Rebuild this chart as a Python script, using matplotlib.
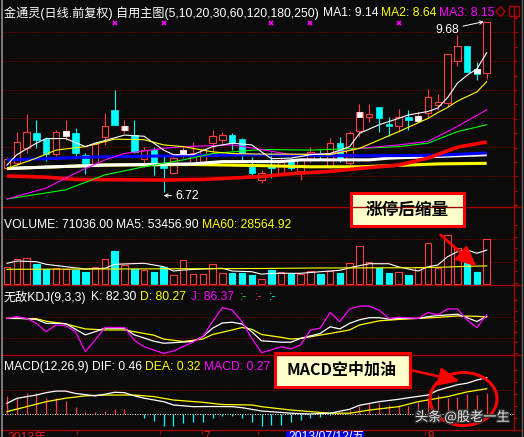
import matplotlib
matplotlib.use("Agg")
import matplotlib.pyplot as plt
from matplotlib.patches import Rectangle, Ellipse, FancyArrowPatch, Polygon
import matplotlib.patheffects as pe

# ---------------- daily bars: 金通灵 ----------------
opens = [7.14, 7.23, 7.49, 7.75, 7.64, 7.38, 7.71, 7.75, 7.37, 7.21,
         7.68, 8.15, 7.80, 7.71, 7.30, 7.45, 7.21, 7.05, 7.38, 7.23,
         7.23, 7.57, 7.63, 7.71, 7.64, 7.16, 6.93, 7.19, 7.05, 7.28,
         7.09, 7.28, 7.38, 7.16, 7.57, 7.23, 7.78, 8.02, 8.20, 7.90,
         7.87, 8.02, 7.99, 8.09, 8.23, 8.27, 9.00, 9.26, 8.86, 8.79]
highs = [7.33, 7.76, 8.08, 7.97, 7.68, 7.80, 7.97, 7.83, 7.40, 7.57,
         8.09, 8.49, 7.97, 7.97, 7.50, 7.50, 7.37, 7.37, 7.52, 7.59,
         7.49, 7.80, 7.76, 7.75, 7.66, 7.33, 7.10, 7.42, 7.31, 7.31,
         7.31, 7.50, 7.45, 7.66, 7.68, 7.78, 8.25, 8.25, 8.20, 8.02,
         8.16, 8.15, 8.11, 8.51, 8.42, 9.12, 9.45, 9.26, 8.98, 9.68]
lows = [7.10, 7.19, 7.40, 7.49, 7.26, 7.35, 7.63, 7.31, 7.04, 7.19,
        7.54, 7.89, 7.75, 7.40, 7.16, 7.02, 6.72, 7.04, 7.31, 7.19,
        7.19, 7.40, 7.57, 7.45, 7.28, 6.98, 6.88, 6.97, 7.02, 7.10,
        6.93, 7.24, 7.28, 7.14, 7.24, 7.19, 7.68, 7.94, 7.76, 7.69,
        7.76, 7.80, 7.94, 8.01, 8.15, 8.22, 8.91, 8.81, 8.67, 8.68]
closes = [7.30, 7.59, 7.76, 7.63, 7.38, 7.76, 7.78, 7.40, 7.23, 7.56,
          7.87, 7.89, 7.87, 7.42, 7.45, 7.23, 7.14, 7.31, 7.45, 7.40,
          7.45, 7.69, 7.71, 7.57, 7.38, 7.05, 7.05, 7.14, 7.28, 7.14,
          7.28, 7.42, 7.35, 7.57, 7.28, 7.75, 8.11, 8.08, 8.01, 7.87,
          8.02, 7.97, 8.04, 8.37, 8.29, 9.12, 9.26, 8.81, 8.77, 9.68]
volumes = [27300, 39500, 41500, 32000, 23200, 25700, 23200, 22100, 18500, 26800,
           39500, 52600, 30000, 23200, 22100, 18900, 26800, 14200, 37900, 15800,
           15800, 31600, 17400, 17800, 17800, 14200, 7900, 22100, 18500, 16300,
           16300, 20500, 16300, 20500, 16900, 32700, 60000, 34300, 24800, 16900,
           18500, 14200, 26400, 64200, 24800, 77400, 56400, 35200, 18500, 71036]

# bars carrying the white square mark, and the magenta signal crosses
mark_days = [6, 12, 18, 36, 42, 48]
signal_days = [11, 16, 27, 31, 40]

# ---------------- moving averages (bar index, value) ----------------
ma5_idx = [0, 1, 3, 4, 6, 8, 9, 12, 14, 16, 17, 19, 21, 23, 25, 26, 27, 29, 31, 33,
           35, 36, 38, 40, 41, 43, 44, 45, 46, 47, 48, 49]
ma5_val = [7.19, 7.37, 7.57, 7.65, 7.65, 7.51, 7.57, 7.71, 7.69, 7.45, 7.37, 7.37,
           7.51, 7.57, 7.54, 7.42, 7.30, 7.31, 7.37, 7.39, 7.51, 7.74, 7.89, 8.00,
           8.06, 8.12, 8.18, 8.36, 8.61, 8.75, 8.86, 9.14]
ma10_idx = [0, 3, 5, 8, 11, 14, 16, 18, 21, 23, 26, 29, 33, 36, 40, 43, 44, 45, 46,
            47, 48, 49]
ma10_val = [7.13, 7.31, 7.45, 7.51, 7.64, 7.63, 7.54, 7.51, 7.42, 7.39, 7.38, 7.38,
            7.37, 7.48, 7.77, 8.00, 8.10, 8.19, 8.30, 8.38, 8.46, 8.64]
ma20_idx = [0, 4, 7, 10, 12, 16, 18, 23, 26, 29, 33, 36, 40, 43, 46, 49]
ma20_val = [6.60, 6.79, 7.05, 7.28, 7.39, 7.48, 7.51, 7.54, 7.46, 7.37, 7.39, 7.48,
            7.54, 7.60, 7.86, 8.15]
ma30_idx = [0, 6, 10, 14, 18, 21, 26, 31, 36, 40, 43, 46, 49]
ma30_val = [6.60, 6.76, 7.02, 7.16, 7.28, 7.39, 7.46, 7.45, 7.48, 7.51, 7.57, 7.77, 7.89]
ma60_idx = [0, 4, 7, 16, 20, 26, 29, 33, 36, 40, 43, 46, 49]
ma60_val = [7.00, 6.98, 6.94, 6.93, 6.94, 6.99, 7.04, 7.08, 7.13, 7.19, 7.31, 7.50, 7.59]
ma120_idx = [0, 9, 17, 26, 36, 44, 49]
ma120_val = [7.28, 7.33, 7.35, 7.37, 7.35, 7.36, 7.40]
ma180_idx = [0, 10, 19, 22, 28, 30, 37, 39, 44, 49]
ma180_val = [7.13, 7.19, 7.21, 7.25, 7.25, 7.28, 7.28, 7.31, 7.34, 7.37]
ma250_idx = [0, 10, 19, 26, 31, 36, 41, 44, 49]
ma250_val = [7.13, 7.19, 7.20, 7.18, 7.16, 7.16, 7.19, 7.21, 7.22]

# volume averages
vma5_idx = [0, 1, 3, 4, 6, 8, 10, 11, 14, 16, 17, 18, 20, 22, 23, 25, 26, 27, 29, 30,
            32, 34, 35, 36, 37, 39, 40, 42, 43, 44, 45, 46, 47, 48, 49]
vma5_val = [32700, 36300, 35200, 31100, 27300, 23700, 24800, 31100, 32700, 27300,
            20500, 22100, 23700, 24800, 20500, 19400, 15500, 16900, 16900, 16900,
            19400, 21600, 25700, 28900, 32000, 32000, 27000, 20500, 27300, 30000,
            43100, 51000, 53700, 48500, 53456.90]
vma60_idx = [0, 11, 26, 31, 42, 45, 47, 49]
vma60_val = [23200, 23700, 24500, 25200, 25700, 26800, 28000, 28564.92]

# KDJ
k_idx = [0, 1, 3, 4, 5, 6, 8, 9, 10, 12, 13, 15, 16, 19, 20, 21, 22, 23, 24, 25, 26,
         28, 29, 30, 32, 33, 34, 35, 36, 37, 38, 39, 40, 42, 43, 44, 46, 47, 48, 49]
k_val = [76, 77, 73, 62, 62, 61, 29, 38, 48, 48, 29, 11, 5, 10, 24, 48, 63, 65, 60,
         38, 12, 8, 8, 19, 33, 52, 46, 62, 72, 78, 78, 74, 76, 76, 81, 84, 88, 78, 67,
         82.30]
d_idx = [0, 3, 4, 6, 8, 10, 12, 13, 15, 16, 18, 20, 21, 23, 24, 25, 26, 28, 29, 30,
         33, 35, 36, 38, 40, 42, 44, 46, 48, 49]
d_val = [76, 75, 68, 60, 46, 43, 43, 38, 28, 17, 10, 17, 30, 43, 50, 45, 30, 22, 17,
         19, 33, 43, 57, 69, 73, 76, 79, 83, 82, 80.27]
j_idx = [0, 1, 2, 3, 4, 5, 6, 7, 8, 9, 10, 12, 13, 14, 16, 17, 19, 20, 21, 22, 23,
         24, 25, 26, 27, 28, 29, 30, 31, 32, 33, 34, 35, 36, 37, 38, 39, 40, 42, 43,
         44, 45, 46, 47, 48, 49]
j_val = [76, 81, 76, 62, 38, 57, 55, 38, -19, 14, 50, 50, 14, -5, -24, -17, 8, 24,
         67, 107, 100, 67, 19, -22, -14, -5, -11, 0, 43, 48, 93, 67, 103, 111, 111,
         100, 76, 79, 76, 93, 86, 103, 103, 71, 50, 86.37]

# MACD
dif_idx = [0, 1, 3, 4, 5, 6, 7, 9, 10, 11, 12, 13, 14, 16, 17, 19, 21, 23, 24, 26,
           28, 29, 31, 33, 35, 36, 38, 40, 41, 43, 44, 46, 47, 48, 49]
dif_val = [0.135, 0.198, 0.24, 0.27, 0.29, 0.29, 0.26, 0.23, 0.25, 0.275, 0.27, 0.23,
           0.20, 0.156, 0.114, 0.093, 0.095, 0.093, 0.08, 0.038, 0.02, 0.01, 0.0,
           0.01, 0.06, 0.11, 0.156, 0.186, 0.206, 0.24, 0.30, 0.37, 0.39, 0.43, 0.46]
dea_idx = [0, 2, 4, 6, 8, 10, 13, 15, 17, 20, 22, 25, 26, 29, 33, 35, 37, 40, 42,
           45, 47, 49]
dea_val = [0.03, 0.093, 0.156, 0.20, 0.23, 0.24, 0.24, 0.22, 0.177, 0.148, 0.12,
           0.114, 0.093, 0.05, 0.01, 0.01, 0.05, 0.093, 0.156, 0.22, 0.28, 0.32]
macd_bar = [0.23, 0.20, 0.26, 0.26, 0.20, 0.20, 0.164, 0.093, 0.03, 0.02,
            0.038, 0.06, 0.06, 0.004, -0.047, -0.089, -0.148, -0.148, -0.118, -0.105,
            -0.105, -0.055, -0.02, -0.02, -0.047, -0.10, -0.148, -0.14, -0.14, -0.097,
            -0.076, -0.047, -0.034, -0.01, 0.01, 0.05, 0.105, 0.135, 0.14, 0.12,
            0.114, 0.105, 0.15, 0.20, 0.24, 0.206, 0.22, 0.25, 0.24, 0.27]

# ---------------- styling ----------------
W, H = 524, 437
BG = "#0b0b0b"
RED = "#ff3c3c"
CYAN = "#00ffff"
YEL = "#ffff00"
MAG = "#ff00ff"
GRN = "#00ff00"
BLUE = "#0000ff"
GRID = "#a00000"
FRAME = "#a00000"
FONT = ["Liberation Sans", "Noto Sans CJK SC"]
CJK = ["Noto Sans CJK SC", "DejaVu Sans"]
FS = 8.7

X0, X1 = 2.0, 513.5           # plotting span in pixels
BAR0, STEP = 7.0, 9.79        # centre of first bar and bar spacing in pixels
XLIM = ((X0 - BAR0) / STEP, (X1 - BAR0) / STEP)
BW = 0.66

fig = plt.figure(figsize=(W / 100, H / 100), dpi=100, facecolor=BG)


def panel(top, bottom, ylo, yhi):
    ax = fig.add_axes([X0 / W, 1 - bottom / H, (X1 - X0) / W, (bottom - top) / H])
    ax.set_xlim(*XLIM)
    ax.set_ylim(ylo, yhi)
    ax.axis("off")
    ax.patch.set_alpha(0)
    return ax


def grid(ax, v, color=GRID):
    ax.axhline(v, color=color, lw=0.72, ls=(0, (1, 2)), zorder=0)


# ---------------- main price panel ----------------
ax = panel(0, 207, 6.4618, 10.0556)
for v in [7.0, 7.5, 8.0, 8.5, 9.0, 9.5]:
    grid(ax, v)

n = len(closes)
for i in range(n):
    o, h, l, c = opens[i], highs[i], lows[i], closes[i]
    if c >= o:
        ax.vlines(i, c, h, color=RED, lw=0.8, zorder=2)
        ax.vlines(i, l, o, color=RED, lw=0.8, zorder=2)
        ax.bar(i, max(c - o, 0.01), bottom=o, width=BW, facecolor=BG,
               edgecolor=RED, lw=0.8, zorder=3)
    else:
        ax.vlines(i, l, h, color=CYAN, lw=0.8, zorder=2)
        ax.bar(i, o - c, bottom=c, width=BW, facecolor=CYAN,
               edgecolor=CYAN, lw=0.5, zorder=3)
for i in mark_days:
    top = max(opens[i], closes[i])
    ax.bar(i, 0.08, bottom=top - 0.08, width=BW * 0.9, facecolor="white",
           edgecolor="white", lw=0.5, zorder=4)

ax.plot(ma250_idx, ma250_val, color=YEL, lw=2.2, zorder=5, solid_capstyle="butt")
ax.plot(ma180_idx, ma180_val, color="white", lw=2.2, zorder=5, solid_capstyle="butt")
ax.plot(ma120_idx, ma120_val, color=BLUE, lw=2.2, zorder=5, solid_capstyle="butt")
ax.plot(ma60_idx, ma60_val, color="#ff0000", lw=2.6, zorder=5, solid_capstyle="butt")
ax.plot(ma30_idx, ma30_val, color=GRN, lw=0.8, zorder=6)
ax.plot(ma20_idx, ma20_val, color=MAG, lw=0.8, zorder=6)
ax.plot(ma10_idx, ma10_val, color=YEL, lw=0.8, zorder=6)
ax.plot(ma5_idx, ma5_val, color="white", lw=0.8, zorder=6)

ax.plot(signal_days, [0.89] * len(signal_days), "x", color=MAG, ms=3.5, mew=1.2,
        transform=ax.get_xaxis_transform(), zorder=6)

ihi = highs.index(max(highs))
ilo = lows.index(min(lows))
ax.annotate(f"{highs[ihi]:.2f}", xy=(ihi - 0.3, highs[ihi]), xytext=(-25, -8),
            textcoords="offset pixels", ha="right", va="center", color="white",
            fontsize=FS, family=FONT,
            arrowprops=dict(arrowstyle="->", color="white", lw=0.7,
                            shrinkA=1, shrinkB=0, mutation_scale=6))
ax.annotate(f"{lows[ilo]:.2f}", xy=(ilo, lows[ilo] - 0.06), xytext=(12, 0),
            textcoords="offset pixels", ha="left", va="center", color="white",
            fontsize=FS, family=FONT,
            arrowprops=dict(arrowstyle="->", color="white", lw=0.7,
                            shrinkA=1, shrinkB=0, mutation_scale=6))

# ---------------- volume panel ----------------
axv = panel(207, 285, -1578.6, 121552)
for v in [71036, 34729]:
    grid(axv, v)
for i in range(n):
    up = closes[i] >= opens[i]
    axv.bar(i, volumes[i], width=BW, facecolor=BG if up else CYAN,
            edgecolor=RED if up else CYAN, lw=0.8, zorder=3)
axv.plot(vma5_idx, vma5_val, color="white", lw=0.8, zorder=4)
axv.plot(vma60_idx, vma60_val, color=YEL, lw=0.8, zorder=4)

# ---------------- KDJ panel ----------------
axk = panel(285, 355, -28.57, 171.43)
for v in [80, 20]:
    grid(axk, v)
axk.plot(d_idx, d_val, color=YEL, lw=0.9, zorder=3)
axk.plot(k_idx, k_val, color="white", lw=0.9, zorder=4)
axk.plot(j_idx, j_val, color=MAG, lw=0.9, zorder=5)

# ---------------- MACD panel ----------------
axm = panel(355, 430, -0.2025, 0.7468)
grid(axm, 0.304)
axm.axhline(0, color="white", lw=0.72, ls=(0, (1, 1.5)), zorder=1)
for i, v in enumerate(macd_bar):
    axm.vlines(i, 0, v, color=RED if v >= 0 else CYAN, lw=0.9, zorder=2)
axm.plot(dea_idx, dea_val, color=YEL, lw=0.9, zorder=3)
axm.plot(dif_idx, dif_val, color="white", lw=0.9, zorder=4)

# ---------------- frame, labels and notes (pixel overlay) ----------------
ov = fig.add_axes([0, 0, 1, 1], zorder=10)
ov.set_xlim(0, W)
ov.set_ylim(H, 0)
ov.axis("off")
ov.patch.set_alpha(0)

for y in [207, 285, 355, 430]:
    ov.plot([2, 521], [y, y], color=FRAME, lw=1.0)
ov.plot([X1, X1], [14, 430], color=FRAME, lw=1.0)
for y0, y1, step in [(18, 207, 14.4), (225, 285, 11.5), (300, 355, 10.5), (370, 430, 12)]:
    y = y0
    while y < y1:
        ov.plot([X1, X1 + 3], [y, y], color=FRAME, lw=0.8)
        y += step
ov.plot([1.5, 1.5], [0, H], color="#909090", lw=1.2)
ov.plot([521.5, 521.5], [0, H], color="#606060", lw=1.0)


def label(x, y, s, color="white", size=FS):
    ov.text(x, y, s, color=color, fontsize=size, family=FONT, ha="left",
            va="center_baseline")


ty = 12
label(4, ty, "金通灵(日线.前复权) 自用主图(5,10,20,30,60,120,180,250)")
label(323, ty, f"MA1: {ma5_val[-1]:.2f}")
label(381, ty, f"MA2: {ma10_val[-1]:.2f}", YEL)
label(439, ty, f"MA3: {ma20_val[-1]:.2f}", MAG)
ov.add_patch(Polygon([(500.5, 6.5), (505, 11.5), (500.5, 16.5), (496, 11.5)],
                     closed=True, fill=False, ec="#b00000", lw=1.0))
ov.add_patch(Rectangle((509, 6), 10, 10, fill=False, ec="#b00000", lw=1.0))
ov.plot([514, 514], [6, 16], color="#b00000", lw=1.0)

vy = 223
label(4, vy, f"VOLUME: {volumes[-1]:.2f}")
label(116, vy, f"MA5: {vma5_val[-1]:.2f}")
label(202, vy, f"MA60: {vma60_val[-1]:.2f}", YEL)

ky = 295.5
label(4, ky, "无敌KDJ(9,3,3)")
label(91, ky, f"K: {k_val[-1]:.2f}")
label(140, ky, f"D: {d_val[-1]:.2f}", YEL)
label(191, ky, f"J: {j_val[-1]:.2f}", MAG)
label(240, ky, ":-", GRN)
label(255, ky, ":-", RED)
label(269, ky, ":-", CYAN)

my = 365.5
label(4, my, "MACD(12,26,9)")
label(92, my, f"DIF: {dif_val[-1]:.2f}")
label(145, my, f"DEA: {dea_val[-1]:.2f}", YEL)
label(204, my, f"MACD: {macd_bar[-1]:.2f}", MAG)

# date axis
for x in [77, 160, 202, 258, 425]:
    ov.plot([x, x], [430, 434], color=FRAME, lw=0.8)
ov.text(7, 431.5, "2013年", color="#e02020", fontsize=FS, family=FONT, va="top")
ov.text(203, 431.5, "7", color="#e02020", fontsize=FS, family=FONT, va="top")
ov.text(427, 431.5, "8", color="#e02020", fontsize=FS, family=FONT, va="top")
ov.add_patch(Rectangle((286, 431), 77, 8, color="#0000e0"))
ov.text(288, 431.5, "2013/07/12/五", color="white", fontsize=FS, family=FONT, va="top")

# callout: volume shrinks after the limit-up day
ov.add_patch(Rectangle((351, 193), 113, 33, facecolor="#ffffcc", edgecolor="#ff0000",
                       lw=2.2))
ov.text(407.5, 210, "涨停后缩量", color="black", fontsize=12, fontweight="bold",
        family=CJK, ha="center", va="center")
ov.add_patch(FancyArrowPatch((438.7, 233.3), (478.7, 268.3),
                             arrowstyle="-|>,head_length=1.1,head_width=0.5",
                             mutation_scale=11, color="#ff0000", lw=2.0))

# callout: MACD refuelling in the air
ov.add_patch(Rectangle((275, 353), 135, 34, facecolor="#ffffcc", edgecolor="#ff0000",
                       lw=2.2))
ov.text(342, 370, "MACD空中加油", color="black", fontsize=11.5, fontweight="bold",
        family=CJK, ha="center", va="center")
ov.add_patch(FancyArrowPatch((410.3, 370), (462, 381.7),
                             arrowstyle="-|>,head_length=1.1,head_width=0.5",
                             mutation_scale=11, color="#ff0000", lw=1.8))
ov.add_patch(Ellipse((463.5, 399), 67, 53, fill=False, ec="#ff0000", lw=2.2))

ov.text(415, 417, "头条 @股老一生", color="#e8e8e8", fontsize=9.5, family=CJK,
        ha="left", va="center",
        path_effects=[pe.withStroke(linewidth=2, foreground="#303030")])

fig.savefig("out.png", dpi=100, facecolor=BG)
